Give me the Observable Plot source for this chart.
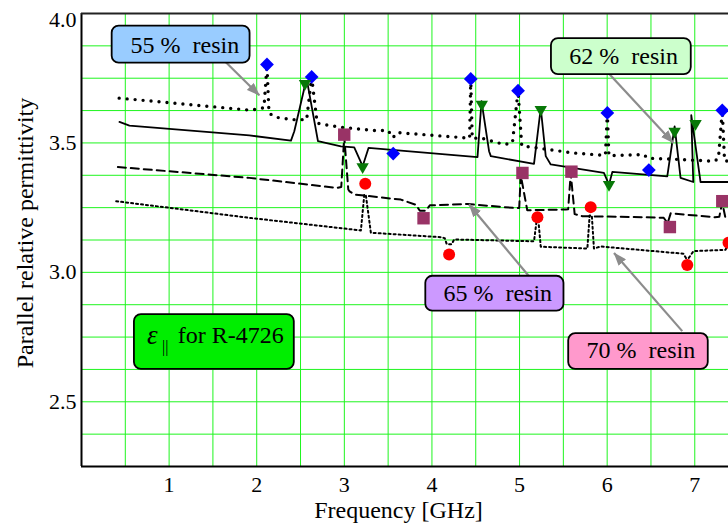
<!DOCTYPE html>
<html><head><meta charset="utf-8">
<script src="https://cdn.jsdelivr.net/npm/d3@7"></script>
<script src="https://cdn.jsdelivr.net/npm/@observablehq/plot@0.6"></script>
<style>html,body{margin:0;padding:0;background:#fff}</style>
</head><body><div id="chart"></div>
<script>
// ---- axes ----
const xTicks = [1, 2, 3, 4, 5, 6, 7];
const yTicks = [2.5, 3.0, 3.5];
const yTopTick = [4.0];
const xGrid = [0.5, 1, 1.5, 2, 2.5, 3, 3.5, 4, 4.5, 5, 5.5, 6, 6.5, 7];
const yGrid = [2.375, 2.5, 2.625, 2.75, 2.875, 3.0, 3.125, 3.25, 3.375, 3.5, 3.625, 3.75, 3.875];
const xTitle = "Frequency [GHz]";
const yTitle = "Parallel relative permittivity";

// ---- series lines (frequency GHz, permittivity) ----
const line55 = [[0.43,3.673],[1.912,3.627],[1.97,3.629],[2.083,3.636],[2.117,3.803],[2.14,3.615],[2.22,3.599],[2.41,3.59],[2.57,3.59],[2.627,3.755],[2.69,3.576],[2.961,3.56],[3.341,3.548],[3.50,3.548],[3.555,3.52],[3.60,3.54],[4.406,3.519],[4.43,3.518],[4.443,3.747],[4.46,3.518],[4.558,3.519],[4.823,3.494],[4.919,3.5],[4.983,3.702],[5.025,3.489],[5.318,3.475],[5.621,3.461],[5.926,3.453],[5.98,3.453],[6.002,3.616],[6.02,3.451],[6.42,3.455],[6.46,3.441],[6.84,3.436],[7.22,3.429],[7.27,3.44],[7.314,3.626],[7.34,3.43],[7.42,3.43]];
const line62 = [[0.433,3.581],[0.547,3.567],[1.916,3.529],[2.391,3.509],[2.429,3.545],[2.562,3.738],[2.579,3.731],[2.699,3.507],[2.961,3.487],[3.113,3.483],[3.209,3.41],[3.277,3.481],[4.52,3.445],[4.566,3.661],[4.652,3.468],[4.672,3.449],[5.165,3.419],[5.242,3.635],[5.299,3.449],[5.356,3.417],[5.963,3.384],[6.021,3.339],[6.059,3.388],[6.686,3.371],[6.77,3.564],[6.838,3.365],[6.983,3.349],[6.96,3.607],[7.066,3.349],[7.42,3.349]];
const line65 = [[0.415,3.407],[1.916,3.365],[2.92,3.326],[2.965,3.33],[2.999,3.525],[3.045,3.32],[3.06,3.313],[3.113,3.301],[3.645,3.281],[3.816,3.261],[3.862,3.238],[3.93,3.238],[3.976,3.259],[4.406,3.264],[4.937,3.249],[4.996,3.249],[5.014,3.375],[5.088,3.24],[5.527,3.243],[5.555,3.244],[5.584,3.383],[5.629,3.225],[5.717,3.217],[6.42,3.213],[6.645,3.211],[6.69,3.19],[6.725,3.228],[7.23,3.213],[7.28,3.215],[7.314,3.27],[7.35,3.21],[7.42,3.21]];
const line70 = [[0.396,3.275],[1.935,3.21],[3.189,3.162],[3.228,3.30],[3.245,3.30],[3.303,3.153],[4.101,3.136],[4.146,3.132],[4.169,3.109],[4.226,3.109],[4.253,3.127],[5.165,3.12],[5.195,3.20],[5.215,3.20],[5.242,3.099],[5.774,3.092],[5.80,3.22],[5.825,3.22],[5.849,3.092],[5.925,3.1],[6.87,3.072],[6.9,3.055],[6.93,3.055],[6.986,3.082],[7.35,3.087],[7.385,3.11],[7.42,3.09]];

// ---- measured resonance points ----
const pts55 = [[2.117,3.803],[2.627,3.755],[3.558,3.459],[4.443,3.747],[4.983,3.702],[6.002,3.616],[6.476,3.395],[7.314,3.626]];
const pts62 = [[2.551,3.729],[3.209,3.408],[4.569,3.649],[5.242,3.629],[6.021,3.339],[6.77,3.545],[7.009,3.575]];
const pts65 = [[2.999,3.532],[3.904,3.209],[5.033,3.384],[5.592,3.389],[6.716,3.175],[7.314,3.275]];
const pts70 = [[3.239,3.342],[4.196,3.069],[5.204,3.213],[5.812,3.252],[6.914,3.028],[7.385,3.114]];

// ---- annotations ----
const labelText = ["55 %\u00a0 resin", "62 %\u00a0 resin", "65 %\u00a0 resin", "70 %\u00a0 resin"];
const labelFill = ["#99ccff", "#ccffcc", "#cc99ff", "#ff99cc"];
const labelBox = [[0.350,1.924,3.808,3.951],[5.364,6.960,3.764,3.903],[3.930,5.507,2.850,2.985],[5.561,7.154,2.625,2.763]];
const labelPos = [[1.180,3.877],[6.188,3.835],[4.751,2.919],[6.385,2.700]];
const arrowTail = [[1.616,3.822],[5.958,3.790],[5.108,2.985],[6.857,2.773]];
const arrowTip = [[2.030,3.684],[6.755,3.500],[4.424,3.262],[6.078,3.075]];
const epsBox = [[0.604,2.429,2.625,2.837]];
const epsPos = [[1.513,2.731]];
const epsParts = ["ε", "||", "for R-4726"];

const labels = labelText.map((t, i) => ({
  text: t, fill: labelFill[i],
  x1: labelBox[i][0], x2: labelBox[i][1], y1: labelBox[i][2], y2: labelBox[i][3],
  x: labelPos[i][0], y: labelPos[i][1],
  ax1: arrowTail[i][0], ay1: arrowTail[i][1], ax2: arrowTip[i][0], ay2: arrowTip[i][1]
}));

const serif = "'Liberation Serif', 'Times New Roman', serif";
const gridColor = "#1ef51e";

const triDown = {draw(context, size) {
  const s = Math.sqrt(size * 4 / Math.sqrt(3));
  const h = s * Math.sqrt(3) / 2;
  context.moveTo(-s / 2, -h / 3);
  context.lineTo(s / 2, -h / 3);
  context.lineTo(0, 2 * h / 3);
  context.closePath();
}};

const X = d => d[0], Y = d => d[1];
const yAxisOpts = {tickSize: 0, tickPadding: 5, tickFormat: d => d.toFixed(1), fontSize: 22, fontFamily: serif, label: null};

const chart = Plot.plot({
  width: 728, height: 525,
  marginTop: 13, marginBottom: 59, marginLeft: 81, marginRight: 0,
  style: {fontFamily: serif, fontSize: "22px", background: "white", color: "black"},
  x: {domain: [0, 7.385]},
  y: {domain: [2.25, 4.0]},
  marks: [
    Plot.ruleX(xGrid, {stroke: gridColor, strokeWidth: 1}),
    Plot.ruleY(yGrid, {stroke: gridColor, strokeWidth: 1}),
    Plot.axisX({ticks: xTicks, tickSize: 0, tickPadding: 10, tickFormat: d => String(d), fontSize: 22, fontFamily: serif, label: null}),
    Plot.axisY({...yAxisOpts, ticks: yTicks}),
    Plot.axisY({...yAxisOpts, ticks: yTopTick, dy: 6}),
    Plot.line(line70, {x: X, y: Y, stroke: "black", strokeWidth: 2, strokeDasharray: "2 3", clip: true}),
    Plot.line(line65, {x: X, y: Y, stroke: "black", strokeWidth: 2, strokeDasharray: "8 5", clip: true}),
    Plot.line(line62, {x: X, y: Y, stroke: "black", strokeWidth: 1.8, clip: true}),
    Plot.line(line55, {x: X, y: Y, stroke: "black", strokeWidth: 3.4, strokeDasharray: "0 8", strokeLinecap: "round", clip: true}),
    Plot.dot(pts55, {x: X, y: Y, symbol: "diamond2", r: 6.2, fill: "#0000ff", clip: true}),
    Plot.dot(pts62, {x: X, y: Y, symbol: triDown, r: 4.6, fill: "#087808", clip: true}),
    Plot.dot(pts65, {x: X, y: Y, symbol: "square", r: 7, fill: "#993366", clip: true}),
    Plot.dot(pts70, {x: X, y: Y, symbol: "circle", r: 6, fill: "#ff0000", clip: true}),
    Plot.ruleX([0], {stroke: "black", strokeWidth: 2}),
    Plot.ruleY([2.25], {stroke: "black", strokeWidth: 2}),
    Plot.ruleY([4.0], {stroke: "#222", strokeWidth: 2}),
    Plot.link(labels, {x1: "ax1", y1: "ay1", x2: "ax2", y2: "ay2", stroke: "#8c8c8c", strokeWidth: 2.2}),
    Plot.rect(labels, {x1: "x1", x2: "x2", y1: "y1", y2: "y2", fill: "fill", stroke: "black", strokeWidth: 1.8, rx: 7}),
    Plot.text(labels, {x: "x", y: "y", text: "text", fontSize: 24, fontFamily: serif, fill: "black", lineAnchor: "middle"}),
    Plot.rect(epsBox, {x1: d => d[0], x2: d => d[1], y1: d => d[2], y2: d => d[3], fill: "#00ee00", stroke: "black", strokeWidth: 1.8, rx: 7}),
    Plot.text(epsPos, {x: X, y: Y, text: () => epsParts[0], fontSize: 27, fontStyle: "italic", fontFamily: serif, textAnchor: "middle", lineAnchor: "middle", dx: -61.8, dy: -6.8}),
    Plot.text(epsPos, {x: X, y: Y, text: () => epsParts[1], fontSize: 16, fontFamily: serif, textAnchor: "middle", lineAnchor: "middle", dx: -48.8, dy: 5}),
    Plot.text(epsPos, {x: X, y: Y, text: () => epsParts[2], fontSize: 24, fontFamily: serif, textAnchor: "start", lineAnchor: "middle", dx: -36.3, dy: -6.8}),
    Plot.text([xTitle], {frameAnchor: "bottom", text: d => d, fontSize: 24, fontFamily: serif, textAnchor: "middle", lineAnchor: "middle", dx: -6.5, dy: 44.3}),
    Plot.text([yTitle], {frameAnchor: "left", text: d => d, fontSize: 24, fontFamily: serif, textAnchor: "middle", lineAnchor: "middle", rotate: -90, dx: -55.7, dy: -7})
  ]
});

const ns = "http://www.w3.org/2000/svg";
const defs = document.createElementNS(ns, "defs");
defs.innerHTML = '<marker id="ahead" viewBox="0 0 12 9" refX="11.5" refY="4.5" markerWidth="6" markerHeight="4.5" orient="auto"><path d="M0,0L12,4.5L0,9Z" fill="#8c8c8c"/></marker>';
chart.insertBefore(defs, chart.firstChild);
chart.querySelectorAll('g[aria-label="link"] path').forEach(p => p.setAttribute("marker-end", "url(#ahead)"));

document.getElementById("chart").appendChild(chart);
</script></body></html>
